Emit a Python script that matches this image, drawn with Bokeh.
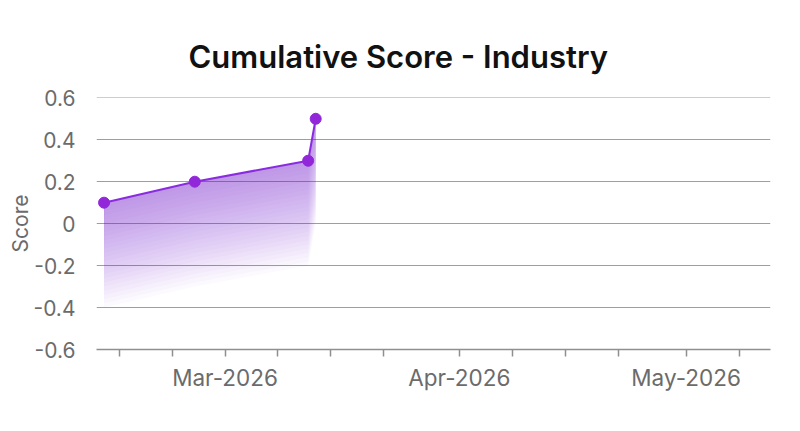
import numpy as np
import pandas as pd
from bokeh.plotting import figure
from bokeh.models import (ColumnDataSource, Range1d, FixedTicker, DaysTicker,
                          CustomJSTickFormatter)
from bokeh.embed import file_html
from bokeh.resources import INLINE

# ---- data ----
dates = ["2026-02-13", "2026-02-25", "2026-03-12", "2026-03-13"]
scores = [0.1, 0.2, 0.3, 0.5]
y_ticks = [-0.6, -0.4, -0.2, 0, 0.2, 0.4, 0.6]
y_tick_labels = ["-0.6", "-0.4", "-0.2", "0", "0.2", "0.4", "0.6"]
month_names = ["Jan", "Feb", "Mar", "Apr", "May", "Jun",
               "Jul", "Aug", "Sep", "Oct", "Nov", "Dec"]
x_start, x_end = "2026-02-12 00:00", "2026-05-12 04:00"
tick_days = [1, 8, 15, 22, 29]

title_text = "Cumulative Score - Industry"
y_label = "Score"

LINE = "#8a2be2"
DOT = "#9127d9"
FONT = "Inter"

x = pd.to_datetime(dates)
y = np.array(scores, dtype=float)

p = figure(width=784, height=415, x_axis_type="datetime",
           x_range=Range1d(pd.Timestamp(x_start), pd.Timestamp(x_end)),
           y_range=Range1d(-0.6, 0.6015),
           output_backend="svg", toolbar_location=None,
           min_border_left=96, min_border_right=14,
           min_border_top=97, min_border_bottom=66)
p.outline_line_color = None
p.background_fill_color = "white"

# title
p.title.text = title_text
p.title.text_font = "'Inter SemiBold', Inter"
p.title.text_font_size = "31px"
p.title.text_font_style = "normal"
p.title.text_color = "#111111"
p.title.align = "left"
p.title.offset = 92
p.title.standoff = 46

# gradient-like area: stacked translucent layers hanging below the line
n_layers = 25
depth = 0.5
layer_alpha = 0.023
for k in range(1, n_layers + 1):
    p.varea(x=x, y1=y, y2=y - depth * k / n_layers,
            fill_color=LINE, fill_alpha=layer_alpha)

src = ColumnDataSource(dict(x=x, y=y))
p.line("x", "y", source=src, line_color=LINE, line_width=2)
p.scatter("x", "y", source=src, size=11, fill_color=DOT, line_color=DOT)

# y axis
yax = p.yaxis[0]
yax.ticker = FixedTicker(ticks=y_ticks)
yax.major_label_overrides = {t: l for t, l in zip(y_ticks, y_tick_labels)}
yax.axis_line_color = None
yax.major_tick_line_color = None
yax.minor_tick_line_color = None
yax.major_label_text_font = FONT
yax.major_label_text_font_size = "21px"
yax.major_label_text_color = "#6b6b6b"
yax.major_label_standoff = 15
yax.axis_label = y_label
yax.axis_label_text_font = FONT
yax.axis_label_text_font_size = "21px"
yax.axis_label_text_font_style = "normal"
yax.axis_label_text_color = "#6b6b6b"
yax.axis_label_standoff = -2

p.ygrid.ticker = FixedTicker(ticks=y_ticks)
p.ygrid.grid_line_color = "#9e9e9e"
p.ygrid.grid_line_width = 1
p.xgrid.grid_line_color = None

# x axis
xax = p.xaxis[0]
xax.ticker = DaysTicker(days=tick_days)
xax.formatter = CustomJSTickFormatter(args=dict(months=month_names), code="""
    const d = new Date(tick);
    if (d.getUTCDate() !== 1) return "";
    return months[d.getUTCMonth()] + "-" + d.getUTCFullYear();
""")
xax.axis_line_color = "#8f8f8f"
xax.axis_line_width = 1.5
xax.major_tick_line_color = "#8f8f8f"
xax.major_tick_line_width = 1.5
xax.major_tick_out = 7
xax.major_tick_in = 0
xax.minor_tick_line_color = None
xax.major_label_text_font = FONT
xax.major_label_text_font_size = "22.5px"
xax.major_label_text_color = "#6b6b6b"
xax.major_label_standoff = 7

open("out.html", "w").write(file_html(p, INLINE))
